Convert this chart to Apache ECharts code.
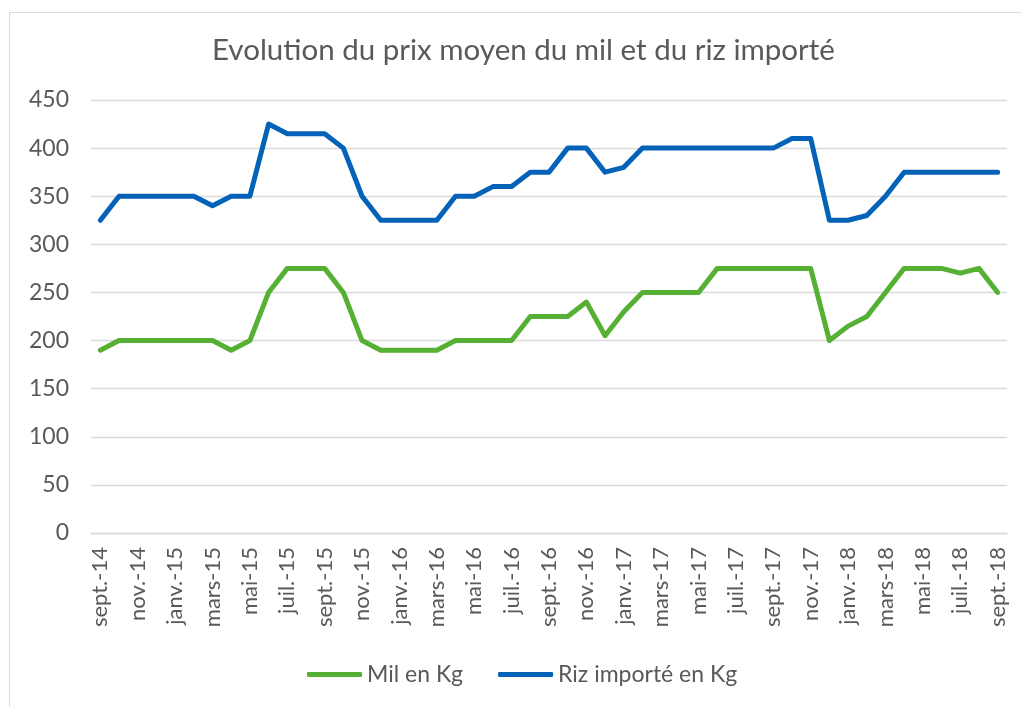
<!DOCTYPE html>
<html>
<head>
<meta charset="utf-8">
<script src="https://cdn.jsdelivr.net/npm/echarts@6/dist/echarts.min.js"></script>
<style>
  html, body { margin: 0; padding: 0; background: #fff; }
  #chart { width: 1021px; height: 707px; }
</style>
</head>
<body>
<div id="chart"></div>
<script>
const months = [
  'sept.-14', 'oct.-14', 'nov.-14', 'déc.-14',
  'janv.-15', 'févr.-15', 'mars-15', 'avr.-15', 'mai-15', 'juin-15',
  'juil.-15', 'août-15', 'sept.-15', 'oct.-15', 'nov.-15', 'déc.-15',
  'janv.-16', 'févr.-16', 'mars-16', 'avr.-16', 'mai-16', 'juin-16',
  'juil.-16', 'août-16', 'sept.-16', 'oct.-16', 'nov.-16', 'déc.-16',
  'janv.-17', 'févr.-17', 'mars-17', 'avr.-17', 'mai-17', 'juin-17',
  'juil.-17', 'août-17', 'sept.-17', 'oct.-17', 'nov.-17', 'déc.-17',
  'janv.-18', 'févr.-18', 'mars-18', 'avr.-18', 'mai-18', 'juin-18',
  'juil.-18', 'août-18', 'sept.-18'
];

const milValues = [
  190, 200, 200, 200, 200, 200, 200, 190, 200, 250,
  275, 275, 275, 250, 200, 190, 190, 190, 190, 200,
  200, 200, 200, 225, 225, 225, 240, 205, 230, 250,
  250, 250, 250, 275, 275, 275, 275, 275, 275, 200,
  215, 225, 250, 275, 275, 275, 270, 275, 250
];

const rizValues = [
  325, 350, 350, 350, 350, 350, 340, 350, 350, 425,
  415, 415, 415, 400, 350, 325, 325, 325, 325, 350,
  350, 360, 360, 375, 375, 400, 400, 375, 380, 400,
  400, 400, 400, 400, 400, 400, 400, 410, 410, 325,
  325, 330, 350, 375, 375, 375, 375, 375, 375
];

const seriesNames = ['Mil en Kg', 'Riz importé en Kg'];
const textColor = '#595959';
const font = 'Lato, "DejaVu Sans", sans-serif';

const chart = echarts.init(document.getElementById('chart'));

chart.setOption({
  animation: false,
  backgroundColor: '#fff',
  textStyle: { fontFamily: font },
  // chart frame, only left and top edges fall inside the window
  graphic: [{
    type: 'rect',
    shape: { x: 9.5, y: 12.5, width: 1030, height: 720 },
    style: { fill: 'none', stroke: '#d9d9d9', lineWidth: 1 },
    silent: true
  }],
  title: {
    text: 'Evolution du prix moyen du mil et du riz importé',
    left: 207,
    top: 30,
    textStyle: { color: textColor, fontSize: 29.5, fontWeight: 'normal', fontFamily: font }
  },
  legend: {
    bottom: 16,
    left: 302,
    itemGap: 35,
    itemWidth: 55,
    itemHeight: 5,
    icon: 'roundRect',
    textStyle: { color: textColor, fontSize: 23, fontFamily: font },
    data: seriesNames
  },
  grid: { left: 91, right: 14, top: 100, bottom: 174 },
  xAxis: {
    type: 'category',
    data: months,
    boundaryGap: true,
    axisLine: { lineStyle: { color: '#d9d9d9', width: 1.3 } },
    axisTick: { show: false },
    axisLabel: {
      interval: 1,
      rotate: 90,
      margin: 14,
      color: textColor,
      fontSize: 22,
      fontFamily: font
    }
  },
  yAxis: {
    type: 'value',
    min: 0,
    max: 450,
    interval: 50,
    axisLine: { show: false },
    axisTick: { show: false },
    axisLabel: { color: textColor, fontSize: 23, margin: 22, fontFamily: font },
    splitLine: { lineStyle: { color: '#d9d9d9', width: 1.3 } }
  },
  series: [
    {
      name: seriesNames[0],
      type: 'line',
      data: milValues,
      showSymbol: false,
      color: '#56b033',
      lineStyle: { width: 5, cap: 'round', join: 'round' }
    },
    {
      name: seriesNames[1],
      type: 'line',
      data: rizValues,
      showSymbol: false,
      color: '#0562b9',
      lineStyle: { width: 5, cap: 'round', join: 'round' }
    }
  ]
});
</script>
</body>
</html>
